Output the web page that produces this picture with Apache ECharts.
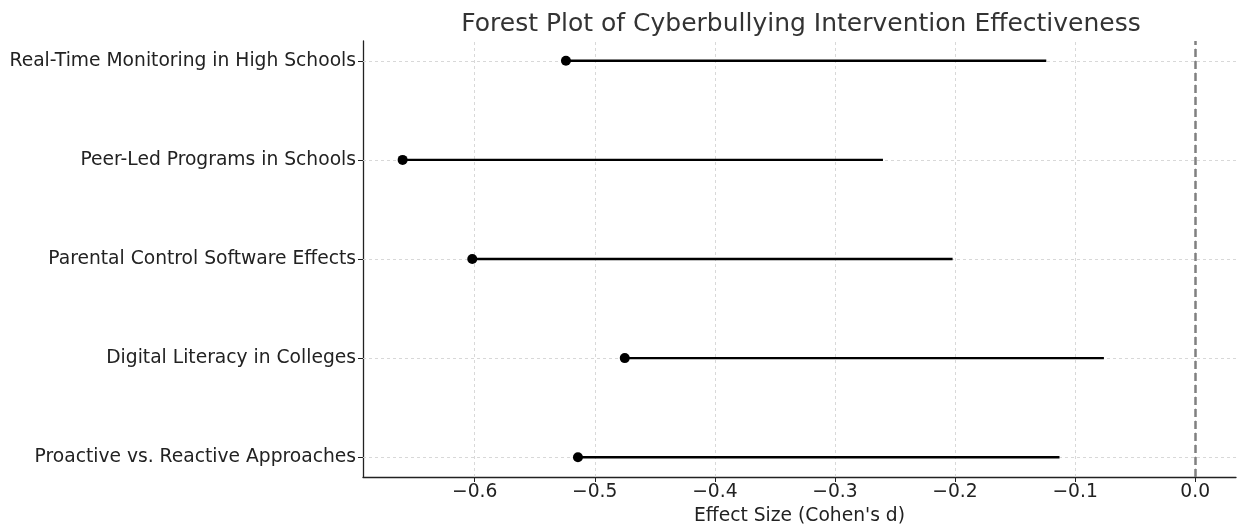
<!DOCTYPE html>
<html>
<head>
<meta charset="utf-8">
<script src="https://cdn.jsdelivr.net/npm/echarts@6/dist/echarts.min.js"></script>
<style>
html,body{margin:0;padding:0;background:#fff;}
#chart{width:1242px;height:525px;}
</style>
</head>
<body>
<div id="chart"></div>
<script>
// Categories listed top to bottom as in the reference
const categories = [
  "Real-Time Monitoring in High Schools",
  "Peer-Led Programs in Schools",
  "Parental Control Software Effects",
  "Digital Literacy in Colleges",
  "Proactive vs. Reactive Approaches"
];
const effectSize = [-0.524, -0.660, -0.602, -0.475, -0.514];
const upperBound = [-0.124, -0.260, -0.202, -0.076, -0.113];
const xTicks = [-0.6, -0.5, -0.4, -0.3, -0.2, -0.1, 0.0];
const yTicks = [0, 1, 2, 3, 4];

const n = categories.length;
const yPos = i => n - 1 - i;
const font = "DejaVu Sans";

const series = [];
// background series holding grid lines (drawn on the lowest layer)
series.push({
  type: 'scatter',
  data: [],
  zlevel: 0, z: 1,
  silent: true,
  markLine: {
    silent: true, symbol: 'none', animation: false,
    label: {show: false},
    data: [
      ...xTicks.map(v => ({xAxis: v, lineStyle: {color: '#d4d4d4', type: [3, 3], width: 0.9}})),
      ...yTicks.map(v => ({yAxis: v, lineStyle: {color: '#d4d4d4', type: [3, 3], width: 0.9}}))
    ]
  }
});
// zero reference line
series.push({
  type: 'scatter',
  data: [],
  zlevel: 1, z: 1,
  silent: true,
  markLine: {
    silent: true, symbol: 'none', animation: false,
    label: {show: false},
    data: [{xAxis: 0, lineStyle: {color: '#808080', type: [8, 4], width: 2.5}}]
  }
});
categories.forEach((c, i) => {
  series.push({
    type: 'line',
    data: [[effectSize[i], yPos(i)], [upperBound[i], yPos(i)]],
    symbol: 'none',
    lineStyle: {color: '#000', width: 2.4},
    silent: true,
    zlevel: 2, z: 3
  });
});
series.push({
  type: 'scatter',
  data: effectSize.map((v, i) => [v, yPos(i)]),
  symbol: 'circle',
  symbolSize: 10,
  itemStyle: {color: '#000', opacity: 1},
  zlevel: 2, z: 4
});

const fmt = v => {
  const s = Math.abs(v).toFixed(1);
  return v < -1e-9 ? '\u2212' + s : s;
};

const chart = echarts.init(document.getElementById('chart'));
chart.setOption({
  animation: false,
  backgroundColor: '#fff',
  title: {
    text: 'Forest Plot of Cyberbullying Intervention Effectiveness',
    left: 796, top: 7, textAlign: 'center',
    textStyle: {fontFamily: font, fontSize: 25, fontWeight: 'normal', color: '#333'}
  },
  grid: {left: 363, right: 6, top: 41, bottom: 48, containLabel: false, outerBoundsMode: 'none'},
  xAxis: {
    type: 'value', min: -0.693, max: 0.034,
    name: "Effect Size (Cohen's d)", nameLocation: 'middle', nameGap: 27,
    nameTextStyle: {fontFamily: font, fontSize: 18.7, color: '#222'},
    axisLine: {show: true, onZero: false, lineStyle: {color: '#222', width: 1.3}},
    axisTick: {show: true, customValues: xTicks, length: 5, lineStyle: {color: '#222'}},
    axisLabel: {customValues: xTicks, formatter: fmt, fontFamily: font, fontSize: 18.7, color: '#222', margin: 6},
    splitLine: {show: false}
  },
  yAxis: {
    type: 'value', min: -0.2, max: 4.2,
    axisLine: {show: true, onZero: false, lineStyle: {color: '#222', width: 1.3}},
    axisTick: {show: true, customValues: yTicks, length: 5, lineStyle: {color: '#222'}},
    axisLabel: {customValues: yTicks, formatter: v => categories[n - 1 - Math.round(v)],
      fontFamily: font, fontSize: 18.7, color: '#222', margin: 7},
    splitLine: {show: false}
  },
  series: series
});
</script>
</body>
</html>
